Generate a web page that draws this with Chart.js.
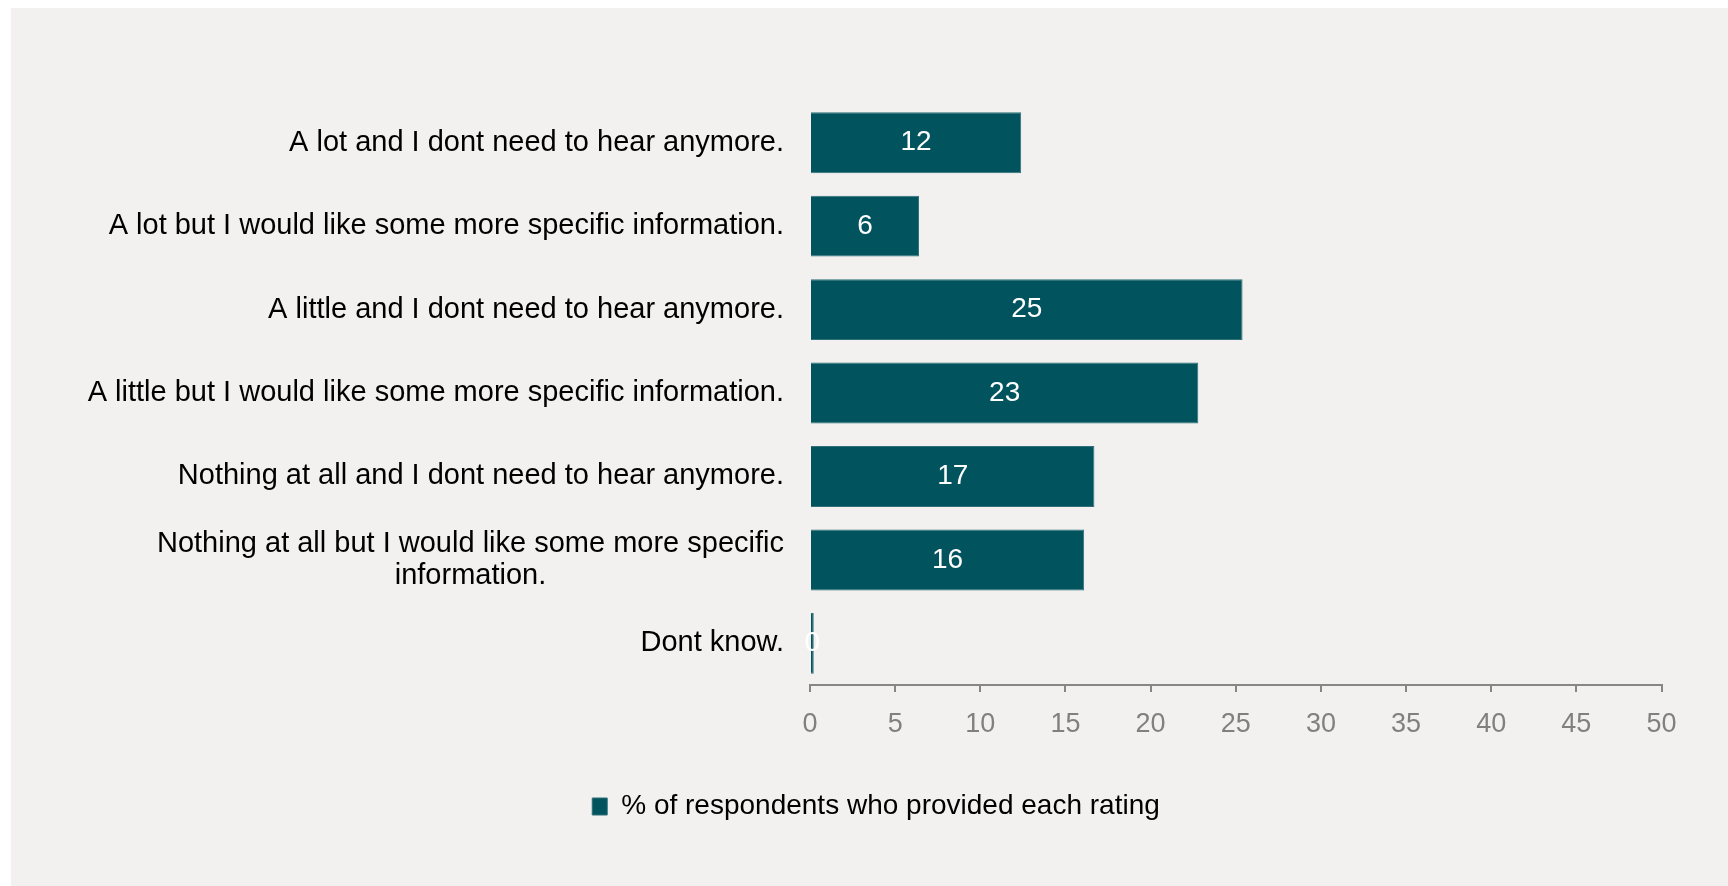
<!DOCTYPE html>
<html>
<head>
<meta charset="utf-8">
<script src="https://cdn.jsdelivr.net/npm/chart.js@4.4.1/dist/chart.umd.min.js"></script>
<style>
    body { margin: 0; background: #ffffff; }
    #panel { position: absolute; left: 11px; top: 8px; width: 1717px; height: 878px; background: #f2f1ef; }
    #chart { display: block; }
</style>
</head>
<body>
<div id="panel"><canvas id="chart" width="1717" height="878"></canvas></div>
<script>
const categories = [
    ['A lot and I dont need to hear anymore.'],
    ['A lot but I would like some more specific information.'],
    ['A little and I dont need to hear anymore.'],
    ['A little but I would like some more specific information.'],
    ['Nothing at all and I dont need to hear anymore.'],
    ['Nothing at all but I would like some more specific', 'information.'],
    ['Dont know.']
];
const ratingValues = [12.4, 6.4, 25.4, 22.8, 16.7, 16.1, 0.22];
const xTickValues = [0, 5, 10, 15, 20, 25, 30, 35, 40, 45, 50];
const seriesName = '% of respondents who provided each rating';

const FONT = "'Liberation Sans', Arial, sans-serif";
const BAR_COLOR = '#01535e';

// category labels: block right aligned, lines centred inside the block
const categoryLabels = {
    id: 'categoryLabels',
    afterDraw(chart) {
        const ctx = chart.ctx;
        const yScale = chart.scales.y;
        const right = chart.chartArea.left - 26;
        const lineHeight = 32;
        ctx.save();
        ctx.font = '29px ' + FONT;
        ctx.fillStyle = '#000000';
        ctx.textAlign = 'center';
        ctx.textBaseline = 'middle';
        categories.forEach((lines, i) => {
            const y = yScale.getPixelForValue(i);
            const blockWidth = Math.max(...lines.map(l => ctx.measureText(l).width));
            const cx = right - blockWidth / 2;
            const startY = y - (lines.length - 1) * lineHeight / 2;
            lines.forEach((line, j) => {
                ctx.fillText(line, cx, startY + j * lineHeight);
            });
        });
        ctx.restore();
    }
};

// value labels in the middle of each bar
const barValueLabels = {
    id: 'barValueLabels',
    afterDatasetsDraw(chart) {
        const ctx = chart.ctx;
        const meta = chart.getDatasetMeta(0);
        ctx.save();
        ctx.font = '28px ' + FONT;
        ctx.fillStyle = '#ffffff';
        ctx.textAlign = 'center';
        ctx.textBaseline = 'middle';
        meta.data.forEach((bar, i) => {
            const x = (bar.x + bar.base) / 2;
            ctx.fillText(String(Math.round(ratingValues[i])), x, bar.y);
        });
        ctx.restore();
    }
};

const ctx = document.getElementById('chart').getContext('2d');
new Chart(ctx, {
    type: 'bar',
    data: {
        labels: categories.map(c => c.join(' ')),
        datasets: [{
            label: seriesName,
            data: ratingValues,
            backgroundColor: BAR_COLOR,
            borderColor: '#2f7079',
            borderWidth: 1,
            barPercentage: 0.73,
            categoryPercentage: 1
        }]
    },
    options: {
        indexAxis: 'y',
        responsive: false,
        animation: false,
        layout: {
            padding: { left: 79.5, right: 66.5, top: 93, bottom: 55.5 }
        },
        scales: {
            x: {
                min: 0,
                max: 50,
                afterBuildTicks: scale => {
                    scale.ticks = xTickValues.map(v => ({ value: v }));
                },
                afterFit: scale => { scale.height += 26; },
                grid: {
                    display: true,
                    drawOnChartArea: false,
                    drawTicks: true,
                    tickLength: 7,
                    color: '#868686',
                    lineWidth: 2
                },
                border: { display: true, color: '#868686', width: 2 },
                ticks: {
                    color: '#808080',
                    font: { family: FONT, size: 27 },
                    padding: 16,
                    maxRotation: 0
                }
            },
            y: {
                grid: { display: false },
                border: { display: false },
                ticks: { display: false },
                afterFit: scale => { scale.width = 719.5; }
            }
        },
        plugins: {
            legend: {
                position: 'bottom',
                labels: {
                    color: '#000000',
                    font: { family: FONT, size: 28 },
                    boxWidth: 15,
                    boxHeight: 17,
                    padding: 10
                }
            },
            tooltip: { enabled: false }
        }
    },
    plugins: [categoryLabels, barValueLabels]
});
</script>
</body>
</html>
